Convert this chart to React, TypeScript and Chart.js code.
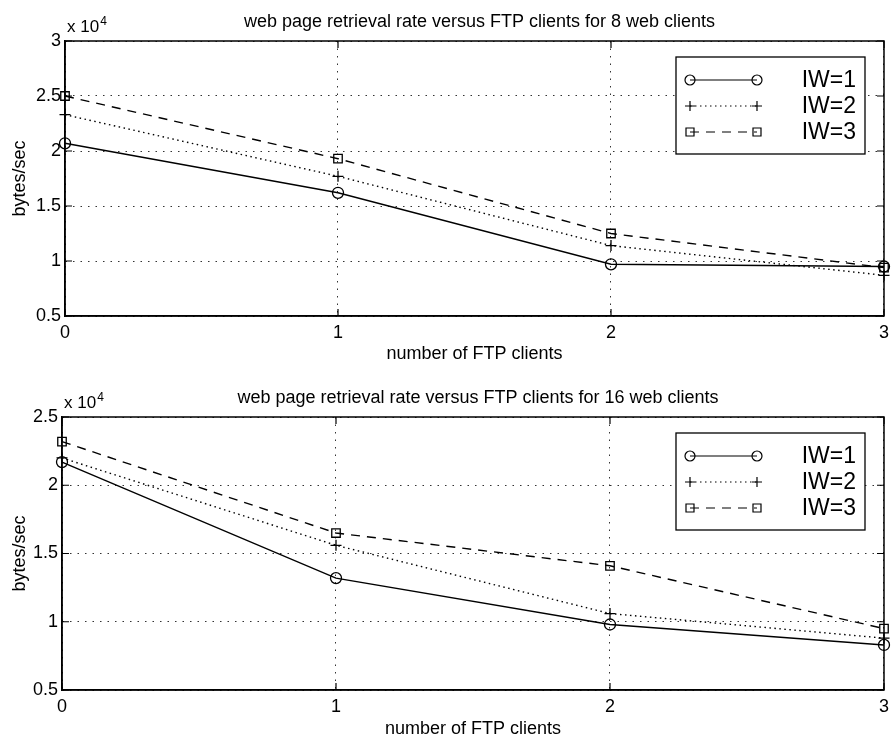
import React, { useEffect, useRef } from 'react';
import { Chart, registerables } from 'chart.js';

Chart.register(...registerables);

// ---------- data ----------
const ftpClients = [0, 1, 2, 3];
const seriesLabels = ['IW=1', 'IW=2', 'IW=3'];
const xTicks = [0, 1, 2, 3];

// 8 web clients (bytes/sec)
const web8IW1 = [20700, 16200, 9700, 9500];
const web8IW2 = [23300, 17700, 11400, 8700];
const web8IW3 = [25000, 19300, 12500, 9400];

// 16 web clients (bytes/sec)
const web16IW1 = [21700, 13200, 9800, 8300];
const web16IW2 = [22000, 15600, 10600, 8800];
const web16IW3 = [23200, 16500, 14100, 9500];

const yTicksTop = [5000, 10000, 15000, 20000, 25000, 30000];
const yTicksBottom = [5000, 10000, 15000, 20000, 25000];

const titleTop = 'web page retrieval rate versus FTP clients for 8 web clients';
const titleBottom = 'web page retrieval rate versus FTP clients for 16 web clients';
const xAxisTitle = 'number of FTP clients';
const yAxisTitle = 'bytes/sec';
const expBase = 'x 10';
const expPower = '4';

// ---------- styles ----------
const FONT = '"Liberation Sans", Arial, Helvetica, sans-serif';
const seriesStyles = [
  { pointStyle: 'circle', radius: 5.5, dash: [] as number[] },
  { pointStyle: 'cross', radius: 5.5, dash: [1.5, 3.5] },
  { pointStyle: 'rect', radius: 6, dash: [9, 7] },
];

function buildDatasets(series: number[][]) {
  return series.map((vals, i) => ({
    label: seriesLabels[i],
    data: ftpClients.map((x, j) => ({ x, y: vals[j] })),
    borderColor: '#000',
    borderWidth: 1.4,
    borderDash: seriesStyles[i].dash,
    pointStyle: seriesStyles[i].pointStyle,
    pointRadius: seriesStyles[i].radius,
    pointBorderColor: '#000',
    pointBackgroundColor: 'rgba(0,0,0,0)',
    pointBorderWidth: 1.3,
    tension: 0,
    fill: false,
    clip: false as any,
  }));
}

function drawMarker(ctx: CanvasRenderingContext2D, style: string, x: number, y: number) {
  ctx.save();
  ctx.setLineDash([]);
  ctx.lineWidth = 1.2;
  ctx.strokeStyle = '#000';
  ctx.beginPath();
  if (style === 'circle') {
    ctx.arc(x, y, 5, 0, Math.PI * 2);
  } else if (style === 'cross') {
    ctx.moveTo(x - 5, y);
    ctx.lineTo(x + 5, y);
    ctx.moveTo(x, y - 5);
    ctx.lineTo(x, y + 5);
  } else {
    ctx.rect(x - 4, y - 4, 8, 8);
  }
  ctx.stroke();
  ctx.restore();
}

function makeDecor(title: string, xTitleBaseline: number, yTitleX: number) {
  return {
    id: 'decor',
    afterDatasetsDraw(chart: any) {
      const ctx: CanvasRenderingContext2D = chart.ctx;
      const a = chart.chartArea;
      const xs = chart.scales.x;
      const ys = chart.scales.y;
      ctx.save();
      // box
      ctx.setLineDash([]);
      ctx.strokeStyle = '#000';
      ctx.lineWidth = 1.5;
      ctx.strokeRect(a.left, a.top, a.right - a.left, a.bottom - a.top);
      // inner ticks
      ctx.lineWidth = 1.2;
      ctx.beginPath();
      xs.ticks.forEach((t: any) => {
        const px = xs.getPixelForValue(t.value);
        ctx.moveTo(px, a.bottom);
        ctx.lineTo(px, a.bottom - 7);
        ctx.moveTo(px, a.top);
        ctx.lineTo(px, a.top + 7);
      });
      ys.ticks.forEach((t: any) => {
        const py = ys.getPixelForValue(t.value);
        ctx.moveTo(a.left, py);
        ctx.lineTo(a.left + 7, py);
        ctx.moveTo(a.right, py);
        ctx.lineTo(a.right - 7, py);
      });
      ctx.stroke();

      // legend
      const bw = 189;
      const bh = 97;
      const bx = a.right - 19 - bw;
      const by = a.top + 16;
      ctx.fillStyle = '#fff';
      ctx.fillRect(bx, by, bw, bh);
      ctx.lineWidth = 1.3;
      ctx.strokeRect(bx, by, bw, bh);
      const rows = [23, 49, 75];
      chart.data.datasets.forEach((ds: any, i: number) => {
        const ry = by + rows[i];
        const x1 = bx + 14;
        const x2 = bx + 81;
        ctx.save();
        ctx.setLineDash(seriesStyles[i].dash);
        ctx.lineWidth = 1.2;
        ctx.beginPath();
        ctx.moveTo(x1, ry);
        ctx.lineTo(x2, ry);
        ctx.stroke();
        ctx.restore();
        drawMarker(ctx, seriesStyles[i].pointStyle, x1, ry);
        drawMarker(ctx, seriesStyles[i].pointStyle, x2, ry);
        ctx.fillStyle = '#000';
        ctx.font = `23px ${FONT}`;
        ctx.textAlign = 'right';
        ctx.textBaseline = 'middle';
        ctx.fillText(ds.label, bx + bw - 9, ry + 1);
      });

      // title
      ctx.fillStyle = '#000';
      ctx.font = `18px ${FONT}`;
      ctx.textAlign = 'center';
      ctx.textBaseline = 'alphabetic';
      ctx.fillText(title, (a.left + a.right) / 2 + 5, a.top - 14);

      // exponent
      ctx.textAlign = 'left';
      ctx.font = `17px ${FONT}`;
      ctx.fillText(expBase, a.left + 2, a.top - 9);
      const w = ctx.measureText(expBase).width;
      ctx.font = `12px ${FONT}`;
      ctx.fillText(expPower, a.left + 3 + w, a.top - 16);

      // x title
      ctx.font = `18px ${FONT}`;
      ctx.textAlign = 'center';
      ctx.fillText(xAxisTitle, (a.left + a.right) / 2, xTitleBaseline);

      // y title
      ctx.save();
      ctx.translate(yTitleX, (a.top + a.bottom) / 2);
      ctx.rotate(-Math.PI / 2);
      ctx.textAlign = 'center';
      ctx.textBaseline = 'alphabetic';
      ctx.font = `18px ${FONT}`;
      ctx.fillText(yAxisTitle, 0, 0);
      ctx.restore();

      ctx.restore();
    },
  };
}

function makeConfig(
  series: number[][],
  yTicks: number[],
  title: string,
  dims: { h: number; left: number; right: number; top: number; bottom: number; xTitleBaseline: number }
) {
  const tickFont = { family: FONT, size: 18 };
  return {
    type: 'line' as const,
    data: { datasets: buildDatasets(series) },
    options: {
      animation: false as const,
      responsive: false,
      maintainAspectRatio: false,
      layout: { padding: { left: 0, right: 895 - dims.right, top: dims.top, bottom: 0 } },
      plugins: { legend: { display: false }, title: { display: false }, tooltip: { enabled: false } },
      scales: {
        x: {
          type: 'linear' as const,
          min: xTicks[0],
          max: xTicks[xTicks.length - 1],
          afterBuildTicks: (s: any) => {
            s.ticks = xTicks.map((v) => ({ value: v }));
          },
          ticks: {
            callback: (v: any) => String(v),
            font: tickFont,
            color: '#000',
            padding: 6,
            maxRotation: 0,
          },
          grid: { color: '#333', lineWidth: 1, drawTicks: false },
          border: { color: '#000', width: 1.5, dash: [1.5, 6] },
          afterFit: (s: any) => {
            s.height = dims.h - dims.bottom;
          },
        },
        y: {
          type: 'linear' as const,
          min: yTicks[0],
          max: yTicks[yTicks.length - 1],
          afterBuildTicks: (s: any) => {
            s.ticks = yTicks.map((v) => ({ value: v }));
          },
          ticks: {
            callback: (v: any) => String(v / 10000),
            font: tickFont,
            color: '#000',
            padding: 4,
          },
          grid: { color: '#333', lineWidth: 1, drawTicks: false },
          border: { color: '#000', width: 1.5, dash: [1.5, 6] },
          afterFit: (s: any) => {
            s.width = dims.left;
          },
        },
      },
    },
    plugins: [makeDecor(title, dims.xTitleBaseline, 25)],
  };
}

export default function App() {
  const topRef = useRef<HTMLCanvasElement>(null);
  const botRef = useRef<HTMLCanvasElement>(null);

  useEffect(() => {
    const c1 = new Chart(
      topRef.current as HTMLCanvasElement,
      makeConfig([web8IW1, web8IW2, web8IW3], yTicksTop, titleTop, {
        h: 368, left: 65, right: 888, top: 41, bottom: 316, xTitleBaseline: 359,
      }) as any
    );
    const c2 = new Chart(
      botRef.current as HTMLCanvasElement,
      makeConfig([web16IW1, web16IW2, web16IW3], yTicksBottom, titleBottom, {
        h: 369, left: 62, right: 886, top: 49, bottom: 322, xTitleBaseline: 366,
      }) as any
    );
    return () => {
      c1.destroy();
      c2.destroy();
    };
  }, []);

  return (
    <div style={{ position: 'fixed', left: 0, top: 0, width: 895, height: 737, background: '#fff' }}>
      <canvas ref={topRef} width={895} height={368} style={{ position: 'absolute', left: 0, top: 0, width: 895, height: 368 }} />
      <canvas ref={botRef} width={895} height={369} style={{ position: 'absolute', left: 0, top: 368, width: 895, height: 369 }} />
    </div>
  );
}
